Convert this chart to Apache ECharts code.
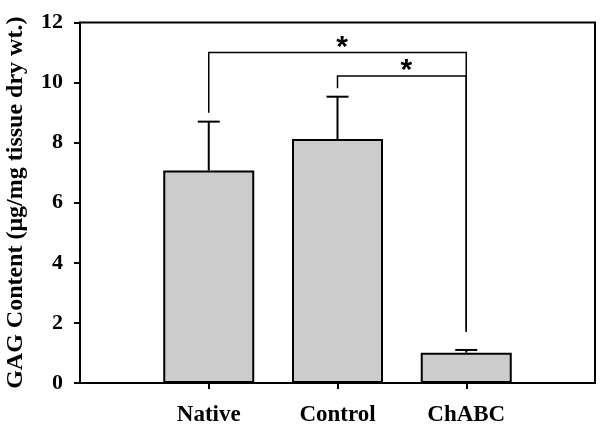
<!DOCTYPE html>
<html>
<head>
<meta charset="utf-8">
<script src="https://cdn.jsdelivr.net/npm/echarts@6/dist/echarts.min.js"></script>
<style>html,body{margin:0;padding:0;background:#fff;}#c{width:601px;height:426px;}</style>
</head>
<body>
<div id="c"></div>
<script>
const categories = ['', 'Native', 'Control', 'ChABC', ''];
const groups = ['Native', 'Control', 'ChABC'];
const means = [7.07, 8.12, 1.01];
const errors = [1.63, 1.41, 0.09];
const yTicks = [0, 2, 4, 6, 8, 10, 12];
// brackets: left group, right group, left leg bottom, right leg bottom, bar height
const bracketLeft = ['Native', 'Control'];
const bracketRight = ['ChABC', 'ChABC'];
const bracketLeftBottom = [9.0, 9.81];
const bracketRightBottom = [1.71, 1.71];
const bracketTop = [11.0, 10.22];
const bracketLabel = ['*', '*'];

const barData = categories.map(c => { const i = groups.indexOf(c); return i >= 0 ? means[i] : null; });
const errData = groups.map((g, i) => [categories.indexOf(g), means[i], means[i] + errors[i]]);
const brData = bracketLeft.map((l, i) => [categories.indexOf(l), categories.indexOf(bracketRight[i]), bracketLeftBottom[i], bracketRightBottom[i], bracketTop[i]]);

const chart = echarts.init(document.getElementById('c'));
const serif = 'Liberation Serif, Times New Roman, serif';
chart.setOption({
  animation: false,
  backgroundColor: '#fff',
  grid: { left: 80, right: 6, top: 22.5, bottom: 43, outerBoundsMode: 'none', containLabel: false, show: true, borderColor: '#000', borderWidth: 2, backgroundColor: 'transparent' },
  xAxis: {
    type: 'category', data: categories, boundaryGap: false,
    axisLine: { lineStyle: { color: '#000', width: 2 } },
    axisTick: { show: true, inside: false, length: 6, lineStyle: { color: '#000', width: 2 }, interval: (i) => i >= 1 && i <= 3 },
    axisLabel: { interval: 0, color: '#000', fontFamily: serif, fontWeight: 'bold', fontSize: 23, margin: 21 },
    splitLine: { show: false }
  },
  yAxis: {
    type: 'value', min: yTicks[0], max: yTicks[yTicks.length - 1], interval: 2,
    name: 'GAG Content (\u03bcg/mg tissue dry wt.)', nameLocation: 'middle', nameRotate: 90, nameGap: 52,
    nameTextStyle: { color: '#000', fontFamily: serif, fontWeight: 'bold', fontSize: 24 },
    axisLine: { show: true, lineStyle: { color: '#000', width: 2 } },
    axisTick: { show: true, inside: false, length: 6, lineStyle: { color: '#000', width: 2 } },
    axisLabel: { color: '#000', fontFamily: serif, fontWeight: 'bold', fontSize: 22, margin: 17 },
    splitLine: { show: false }
  },
  series: [
    {
      type: 'bar', data: barData, barWidth: 91,
      itemStyle: { color: '#cccccc', borderColor: '#000', borderWidth: 2 }
    },
    {
      type: 'custom', data: errData, z: 5,
      renderItem: (params, api) => {
        const x = api.value(0);
        const p0 = api.coord([x, api.value(1)]);
        const p1 = api.coord([x, api.value(2)]);
        return { type: 'group', children: [
          { type: 'line', shape: { x1: p0[0], y1: p0[1], x2: p1[0], y2: p1[1] }, style: { stroke: '#000', lineWidth: 2 } },
          { type: 'line', shape: { x1: p1[0] - 11, y1: p1[1], x2: p1[0] + 11, y2: p1[1] }, style: { stroke: '#000', lineWidth: 2 } }
        ]};
      }
    },
    {
      type: 'custom', data: brData, z: 5,
      renderItem: (params, api) => {
        const xl = api.value(0), xr = api.value(1);
        const a = api.coord([xl, api.value(2)]);
        const b = api.coord([xl, api.value(4)]);
        const c = api.coord([xr, api.value(4)]);
        const d = api.coord([xr, api.value(3)]);
        const mx = (b[0] + c[0]) / 2;
        return { type: 'group', children: [
          { type: 'polyline', shape: { points: [a, b, c, d] }, style: { stroke: '#000', lineWidth: 1.5, fill: null } },
          { type: 'text', x: mx + 4.5, y: b[1] + 10, style: { text: bracketLabel[params.dataIndex], fill: '#000', font: 'bold 30px Liberation Sans, Arial, sans-serif', align: 'center', verticalAlign: 'bottom' } }
        ]};
      }
    }
  ]
});
</script>
</body>
</html>
